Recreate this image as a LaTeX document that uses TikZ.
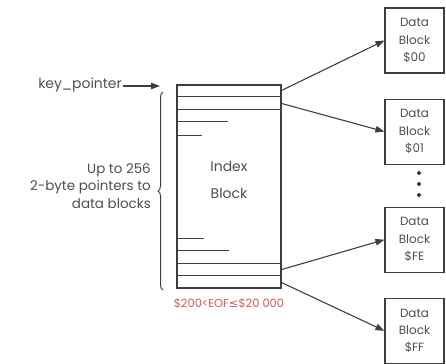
\documentclass[tikz,border=0pt]{standalone}
\usepackage{fontspec}
\setmainfont{Poppins}
\newfontfamily\symfont{DejaVu Sans}
\usetikzlibrary{arrows.meta,positioning,calc,decorations.pathreplacing}
\definecolor{linegray}{RGB}{62,62,62}
\definecolor{textgray}{RGB}{78,78,78}
\definecolor{eofred}{RGB}{226,84,86}
\tikzset{
  dblock/.style={draw=linegray, line width=1.1pt, minimum width=59bp, minimum height=65bp,
               inner sep=0pt, align=center, text=textgray, font=\fontsize{12}{17.5}\selectfont},
  iblock/.style={draw=linegray, line width=1.1pt, minimum width=104bp, minimum height=203bp, inner sep=0pt},
  slot/.style={draw=linegray, line width=1.0pt},
  ptr/.style={-{Triangle[length=9bp,width=6.5bp]}, line width=1.1pt, draw=linegray},
  note/.style={inner sep=0pt, text=textgray, font=\fontsize{13.5}{17.5}\selectfont},
}
\begin{document}
\begin{tikzpicture}[x=1bp, y=-1bp]
  \useasboundingbox (0,0) rectangle (446,363);
  % index block with its pointer slots
  \node[iblock] (index) at (229,186.5) {};
  \foreach \dy in {12,25} \draw[slot] ($(index.north west)+(0,\dy)$) -- ($(index.north east)+(0,\dy)$);
  \foreach \dy in {13,25} \draw[slot] ($(index.south west)-(0,\dy)$) -- ($(index.south east)-(0,\dy)$);
  \draw[slot] ($(index.north west)+(0,37)$) -- ++(52,0);
  \draw[slot] ($(index.north west)+(0,51)$) -- ++(26,0);
  \draw[slot] ($(index.south west)-(0,38)$) -- ++(53,0);
  \draw[slot] ($(index.south west)-(0,50)$) -- ++(28,0);
  \node[note, align=center, font=\fontsize{14}{27}\selectfont] (ilabel) at (229,180) {Index\\Block};

  % data blocks
  \node[dblock] (d00) at (414.5,40.5) {Data\\Block\\\$00};
  \node[dblock, below=25bp of d00] (d01) {Data\\Block\\\$01};
  \node[dblock, below=42bp of d01] (dFE) {Data\\Block\\\$FE};
  \node[dblock, below=25bp of dFE] (dFF) {Data\\Block\\\$FF};
  \foreach \y in {173,184,195} \fill[linegray] (419,\y) circle (2bp);

  % pointers from the slots
  \coordinate (p00) at ($(index.north east)+(0,6)$);
  \coordinate (p01) at ($(index.north east)+(0,19)$);
  \coordinate (pFE) at ($(index.south east)-(0,19)$);
  \coordinate (pFF) at ($(index.south east)-(0,6)$);
  \draw[ptr] (p00) -- (d00.west);
  \draw[ptr] (p01) -- (d01.west);
  \draw[ptr] (pFE) -- (dFE.west);
  \draw[ptr] (pFF) -- (dFF.west);

  % key pointer and brace
  \node[note, anchor=east, font=\fontsize{14}{17.5}\selectfont] (key) at (122,85) {key\_pointer};
  \coordinate (keyend) at (160,86);
  \draw[ptr] (key.east) ++(1,1) -- (keyend);
  \coordinate (bracebot) at (163,290);
  \coordinate (bracetop) at (163,92);
  \draw[linegray, line width=1pt, decorate, decoration={brace, amplitude=5bp}] (bracebot) -- (bracetop);
  \node[note, align=right, anchor=east] (count) at (151,186) {Up to 256\\2-byte pointers to\\data blocks};
  \node[inner sep=0pt, text=eofred, font=\fontsize{11.5}{12}\selectfont] (eof) at (229,303)
    {\$200<EOF{\symfont ≤}\$20 000};
\end{tikzpicture}
\end{document}
